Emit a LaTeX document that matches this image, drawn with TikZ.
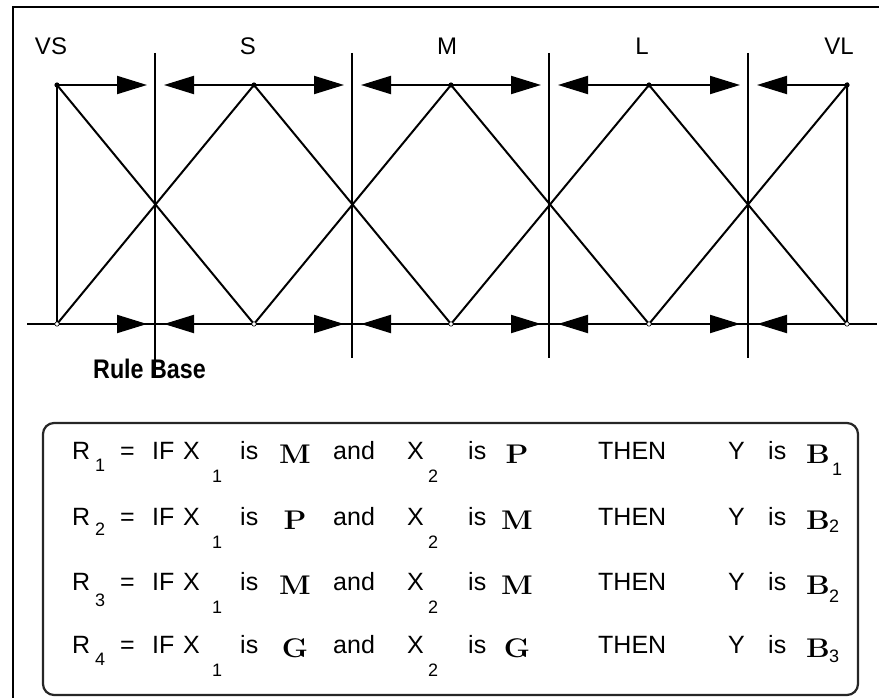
\documentclass[tikz,border=0pt]{standalone}
\usepackage{fontspec}
\usepackage{graphicx}
\setsansfont{Liberation Sans}
\usetikzlibrary{arrows.meta}
\newcommand{\bltr}[1]{\ifx M#1\scalebox{1.3}[1]{#1}\else\scalebox{1.1}[1]{#1}\fi}
\begin{document}
\begin{tikzpicture}[x=1pt,y=-1pt,
  ln/.style={line width=2pt, black},
  arr/.style={ln, -{Triangle[length=30pt,width=18pt]}},
  lab/.style={font=\sffamily\fontsize{24}{28}\selectfont, anchor=base, inner sep=0pt},
  tx/.style={font=\sffamily\fontsize{25}{29}\selectfont, anchor=base west, inner sep=0pt},
  sb/.style={font=\sffamily\fontsize{18}{21}\selectfont, anchor=base west, inner sep=0pt},
  bl/.style={font=\rmfamily\bfseries\fontsize{27}{31}\selectfont, anchor=base, inner sep=0pt},
  topmark/.style={fill=black, draw=none},
  botmark/.style={fill=white, draw=black, line width=0.6pt},
]
\useasboundingbox (0,0) rectangle (879,698);

% outer frame (top and left)
\coordinate (fbl) at (13,698);
\coordinate (ftl) at (13,7);
\coordinate (ftr) at (879,7);
\draw[ln] (fbl) -- (ftl) -- (ftr);

% peaks and bases
\foreach \n/\x in {0/57,1/254,2/451,3/649,4/847}{
  \coordinate (t\n) at (\x,85);
  \coordinate (b\n) at (\x,324);
}

% axis
\coordinate (axL) at (27,324);
\coordinate (axR) at (877,324);
\draw[ln] (axL) -- (axR);

% membership functions
\draw[ln] (t0) -- (b0);
\draw[ln] (t0) -- (b1);
\draw[ln] (b0) -- (t1) -- (b2);
\draw[ln] (b1) -- (t2) -- (b3);
\draw[ln] (b2) -- (t3) -- (b4);
\draw[ln] (b3) -- (t4) -- (b4);

% separators and arrows
\foreach \i/\c/\e in {1/155/378,2/352/358,3/549/358,4/748/358}{
  \coordinate (st\i) at (\c,53);
  \coordinate (sb\i) at (\c,\e);
  \draw[ln] (st\i) -- (sb\i);
  \coordinate (tl\i) at (\c-8,85);
  \coordinate (tr\i) at (\c+9,85);
  \coordinate (bl\i) at (\c-8,324);
  \coordinate (br\i) at (\c+9,324);
}
\foreach \i/\a/\b in {1/0/1,2/1/2,3/2/3,4/3/4}{
  \draw[arr] (t\a) -- (tl\i);
  \draw[arr] (t\b) -- (tr\i);
  \draw[arr] (b\a) -- (bl\i);
  \draw[arr] (b\b) -- (br\i);
}

% point markers
\foreach \n in {0,...,4}{
  \fill[topmark] (t\n) circle (2.6pt);
  \filldraw[botmark] (b\n) circle (2.2pt);
}

% labels
\node[lab] (lVS) at (51,55) {VS};
\node[lab] (lS) at (248,55) {S};
\node[lab] (lM) at (447,55) {M};
\node[lab] (lL) at (642,55) {L};
\node[lab] (lVL) at (839,55) {VL};

\node[font=\sffamily\bfseries\fontsize{24}{28}\selectfont, anchor=base west, inner sep=0pt] (rbase) at (93,378) {\scalebox{0.97}[1.12]{Rule Base}};

% rule box
\draw[line width=2.2pt, black!85, rounded corners=11pt] (43,423) rectangle (858,695);

% rules
\foreach \i/\yy/\ca/\cb/\rs/\bs/\bsx/\bn in {1/459/M/P/12/16/832/1, 2/525/P/M/10/7/829/2, 3/590/M/M/16/12/829/2, 4/653/G/G/12/9/829/3}{
  \node[tx] (R\i) at (72,\yy) {R};
  \node[sb] (Rs\i) at (95,\yy+\rs) {\i};
  \node[tx] (eq\i) at (120,\yy) {=};
  \node[tx] (if\i) at (152,\yy) {IF};
  \node[tx] (xa\i) at (183,\yy) {X};
  \node[sb] (xas\i) at (212,\yy+23) {1};
  \node[tx] (isa\i) at (240,\yy) {is};
  \node[bl] (ca\i) at (295,\yy+4) {\bltr{\ca}};
  \node[tx] (and\i) at (333,\yy) {and};
  \node[tx] (xb\i) at (407,\yy) {X};
  \node[sb] (xbs\i) at (428,\yy+23) {2};
  \node[tx] (isb\i) at (468,\yy) {is};
  \node[bl] (cb\i) at (517,\yy+4) {\bltr{\cb}};
  \node[tx] (then\i) at (598,\yy) {THEN};
  \node[tx] (y\i) at (728,\yy) {Y};
  \node[tx] (isc\i) at (768,\yy) {is};
  \node[bl, anchor=base west] (B\i) at (806,\yy+4) {\bltr{B}};
  \node[sb] (Bs\i) at (\bsx,\yy+\bs) {\bn};
}
\end{tikzpicture}
\end{document}
